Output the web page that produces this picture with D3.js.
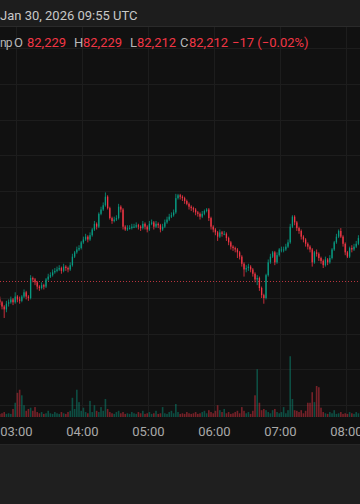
<!DOCTYPE html>
<html>
<head>
<meta charset="utf-8">
<script src="https://cdn.jsdelivr.net/npm/d3@7"></script>
<style>
  html, body { margin: 0; padding: 0; background: #111111; }
  svg { display: block; }
  text { font-family: Roboto, "Noto Sans", sans-serif; }
</style>
</head>
<body>
<div id="chart"></div>
<script>
var svgWidth = 360;
var svgHeight = 504;

// 2-minute bars, first bar at 02:45 UTC
var startTime = "2026-01-30T02:45:00Z";
var barMinutes = 2;
var firstOpen = 82199;

var closes = [
  82197, 82194, 82192, 82196, 82197, 82199, 82197, 82201, 82199, 82198,
  82201, 82204, 82201, 82200, 82214, 82213, 82211, 82208, 82207, 82209,
  82208, 82213, 82215, 82216, 82218, 82219, 82220, 82221, 82219, 82222,
  82221, 82220, 82223, 82229, 82232, 82234, 82235, 82239, 82241, 82243,
  82241, 82244, 82248, 82252, 82250, 82259, 82262, 82265, 82271, 82263,
  82256, 82254, 82255, 82256, 82264, 82262, 82250, 82248, 82249, 82249,
  82250, 82250, 82251, 82250, 82249, 82252, 82250, 82248, 82252, 82253,
  82250, 82252, 82251, 82248, 82250, 82253, 82255, 82257, 82258, 82260,
  82270, 82272, 82271, 82270, 82268, 82266, 82264, 82263, 82262, 82260,
  82259, 82257, 82259, 82261, 82262, 82256, 82250, 82248, 82246, 82243,
  82246, 82245, 82245, 82242, 82239, 82236, 82235, 82234, 82232, 82229,
  82224, 82220, 82221, 82222, 82220, 82217, 82213, 82214, 82207, 82202,
  82200, 82216, 82225, 82229, 82232, 82225, 82230, 82234, 82234, 82234,
  82236, 82239, 82250, 82257, 82253, 82249, 82247, 82243, 82241, 82238,
  82236, 82234, 82225, 82232, 82231, 82228, 82226, 82223, 82227, 82225,
  82228, 82234, 82239, 82243, 82247, 82243, 82238, 82232, 82229, 82235,
  82234, 82236, 82238, 82242
];

var highs = [
  82201, 82198, 82195, 82198, 82199, 82201, 82200, 82204, 82202, 82201,
  82202, 82206, 82205, 82202, 82216, 82215, 82214, 82212, 82209, 82211,
  82210, 82214, 82217, 82218, 82220, 82221, 82222, 82223, 82222, 82224,
  82223, 82222, 82225, 82231, 82233, 82236, 82237, 82240, 82243, 82245,
  82244, 82246, 82249, 82254, 82253, 82260, 82264, 82267, 82274, 82272,
  82264, 82257, 82257, 82258, 82266, 82265, 82263, 82251, 82251, 82251,
  82252, 82252, 82253, 82252, 82251, 82254, 82253, 82251, 82254, 82255,
  82254, 82254, 82253, 82252, 82252, 82255, 82257, 82259, 82260, 82262,
  82273, 82273, 82273, 82272, 82271, 82269, 82267, 82265, 82264, 82263,
  82261, 82260, 82261, 82262, 82263, 82263, 82257, 82251, 82249, 82247,
  82248, 82247, 82247, 82246, 82243, 82240, 82237, 82236, 82235, 82233,
  82230, 82225, 82223, 82224, 82223, 82221, 82218, 82216, 82215, 82208,
  82203, 82217, 82227, 82231, 82233, 82233, 82232, 82235, 82236, 82236,
  82238, 82241, 82252, 82258, 82258, 82254, 82250, 82248, 82244, 82242,
  82239, 82237, 82235, 82233, 82234, 82232, 82229, 82227, 82229, 82228,
  82230, 82235, 82240, 82245, 82248, 82249, 82244, 82239, 82233, 82236,
  82237, 82238, 82240, 82244
];

var lows = [
  82195, 82192, 82186, 82190, 82194, 82196, 82195, 82196, 82197, 82196,
  82197, 82200, 82199, 82198, 82199, 82211, 82209, 82206, 82205, 82206,
  82206, 82207, 82212, 82214, 82215, 82217, 82218, 82219, 82217, 82218,
  82219, 82218, 82219, 82222, 82228, 82231, 82233, 82234, 82238, 82240,
  82239, 82240, 82243, 82247, 82248, 82249, 82258, 82261, 82264, 82262,
  82255, 82252, 82253, 82254, 82255, 82260, 82248, 82247, 82247, 82248,
  82248, 82249, 82249, 82248, 82247, 82248, 82248, 82246, 82247, 82251,
  82248, 82249, 82249, 82246, 82247, 82249, 82252, 82254, 82256, 82257,
  82259, 82269, 82269, 82268, 82266, 82265, 82262, 82261, 82260, 82258,
  82257, 82255, 82256, 82258, 82260, 82254, 82248, 82246, 82244, 82240,
  82242, 82243, 82244, 82240, 82237, 82234, 82233, 82232, 82228, 82227,
  82222, 82215, 82218, 82219, 82218, 82215, 82211, 82209, 82205, 82200,
  82196, 82199, 82215, 82224, 82228, 82223, 82224, 82229, 82232, 82232,
  82233, 82235, 82238, 82249, 82251, 82247, 82245, 82241, 82239, 82236,
  82234, 82232, 82222, 82224, 82229, 82226, 82224, 82221, 82222, 82223,
  82224, 82227, 82233, 82238, 82242, 82242, 82236, 82230, 82228, 82228,
  82232, 82233, 82235, 82237
];

var volumes = [
  5, 6, 8, 5, 6, 5, 13, 23, 39, 44,
  35, 19, 10, 13, 15, 10, 16, 8, 6, 8,
  5, 6, 10, 6, 5, 8, 6, 5, 8, 6,
  5, 8, 10, 31, 13, 44, 24, 10, 15, 8,
  6, 26, 8, 19, 10, 8, 16, 10, 29, 13,
  8, 6, 5, 8, 10, 6, 8, 5, 6, 5,
  8, 6, 5, 8, 6, 10, 5, 6, 8, 5,
  6, 10, 5, 6, 16, 6, 5, 8, 10, 6,
  21, 8, 5, 6, 5, 8, 6, 5, 6, 8,
  5, 6, 8, 10, 6, 11, 8, 6, 10, 19,
  11, 8, 13, 6, 8, 5, 6, 8, 10, 6,
  16, 10, 6, 8, 5, 10, 35, 77, 23, 11,
  13, 11, 8, 6, 11, 13, 8, 6, 8, 16,
  6, 11, 98, 29, 11, 10, 8, 11, 6, 10,
  23, 23, 40, 24, 50, 48, 15, 8, 6, 5,
  8, 6, 11, 5, 6, 8, 5, 6, 5, 8,
  6, 5, 8, 6
];

var lastPrice = 82212;
var headerText = "Jan 30, 2026 09:55 UTC";
// legend pieces: [text, kind, left]
var legendItems = [
  ["np", "label", 0], ["O", "label", 14], ["82,229", "value", 27],
  ["H", "label", 74], ["82,229", "value", 83], ["L", "label", 130],
  ["82,212", "value", 137], ["C", "label", 180], ["82,212", "value", 189],
  ["\u221217 (\u22120.02%)", "value", 232]
];

var upColor = "#089981";
var downColor = "#f23645";

// build bar objects
var bars = closes.map(function(c, i) {
  return {
    time: new Date(Date.parse(startTime) + i * barMinutes * 60000),
    open: i === 0 ? firstOpen : closes[i - 1],
    high: highs[i],
    low: lows[i],
    close: c,
    volume: volumes[i]
  };
});

var svg = d3.select("#chart")
  .append("svg")
  .attr("width", svgWidth)
  .attr("height", svgHeight);

var plotTop = 27;
var plotBottom = 417;
var axisBottom = 444;

// backgrounds
svg.append("rect").attr("x", 0).attr("y", 0).attr("width", svgWidth).attr("height", svgHeight).attr("fill", "#111111");
svg.append("rect").attr("x", 0).attr("y", 0).attr("width", svgWidth).attr("height", plotTop).attr("fill", "#1d1d1d");
svg.append("line").attr("x1", 0).attr("x2", svgWidth).attr("y1", plotTop - 0.5).attr("y2", plotTop - 0.5)
  .attr("stroke", "#2a2a2a");
svg.append("rect").attr("x", 0).attr("y", axisBottom).attr("width", svgWidth).attr("height", svgHeight - axisBottom)
  .attr("fill", "#1f1f1f");
svg.append("line").attr("x1", 0).attr("x2", svgWidth).attr("y1", axisBottom + 0.5).attr("y2", axisBottom + 0.5)
  .attr("stroke", "#262626");

// scales
var xScale = d3.scaleUtc()
  .domain([new Date("2026-01-30T02:45:10Z"), new Date("2026-01-30T08:12:26Z")])
  .range([0, svgWidth]);

var yScale = d3.scaleLinear()
  .domain([82200, 82275])
  .range([298, 191]);

var volScale = d3.scaleLinear()
  .domain([0, 100])
  .range([plotBottom, plotBottom - 62]);

var plot = svg.append("g");

// grid: price levels every 25, hours for vertical
var priceTicks = d3.range(82100, 82400, 25).filter(function(p) {
  var y = yScale(p);
  return y > plotTop && y < plotBottom;
});
plot.selectAll(".hgrid")
  .data(priceTicks)
  .enter()
  .append("line")
  .attr("x1", 0)
  .attr("x2", svgWidth)
  .attr("y1", d => Math.round(yScale(d)) + 0.5)
  .attr("y2", d => Math.round(yScale(d)) + 0.5)
  .attr("stroke", "#1d1d1d");

var hourTicks = xScale.ticks(d3.utcHour.every(1));
plot.selectAll(".vgrid")
  .data(hourTicks)
  .enter()
  .append("line")
  .attr("x1", d => Math.round(xScale(d)) + 0.5)
  .attr("x2", d => Math.round(xScale(d)) + 0.5)
  .attr("y1", plotTop)
  .attr("y2", plotBottom)
  .attr("stroke", "#1d1d1d");

// volume bars
var barW = 1.3;
plot.selectAll(".vol")
  .data(bars)
  .enter()
  .append("rect")
  .attr("x", d => xScale(d.time) - 0.8)
  .attr("y", d => volScale(d.volume))
  .attr("width", 1.6)
  .attr("height", d => plotBottom - volScale(d.volume))
  .attr("fill", d => d.close >= d.open ? upColor : downColor)
  .attr("opacity", 0.45);

// last price dotted line
plot.append("line")
  .attr("x1", 0)
  .attr("x2", svgWidth)
  .attr("y1", Math.round(yScale(lastPrice)) + 0.5)
  .attr("y2", Math.round(yScale(lastPrice)) + 0.5)
  .attr("stroke", "#b8343e")
  .attr("stroke-dasharray", "1,2");

// candles
var candles = plot.selectAll(".candle")
  .data(bars)
  .enter()
  .append("g")
  .attr("fill", d => d.close >= d.open ? upColor : downColor)
  .attr("stroke", d => d.close >= d.open ? upColor : downColor);

candles.append("line")
  .attr("x1", d => xScale(d.time))
  .attr("x2", d => xScale(d.time))
  .attr("y1", d => yScale(d.high))
  .attr("y2", d => yScale(d.low))
  .attr("stroke-width", 0.8);

candles.append("rect")
  .attr("x", d => xScale(d.time) - barW / 2)
  .attr("y", d => yScale(Math.max(d.open, d.close)))
  .attr("width", barW)
  .attr("height", d => Math.max(1, Math.abs(yScale(d.open) - yScale(d.close))))
  .attr("stroke", "none");

// time axis labels
svg.selectAll(".tlabel")
  .data(hourTicks)
  .enter()
  .append("text")
  .attr("x", d => xScale(d))
  .attr("y", 436)
  .attr("text-anchor", "middle")
  .attr("font-size", "13px")
  .attr("fill", "#a9a9a9")
  .text(d3.utcFormat("%H:%M"));

// header
svg.append("text")
  .attr("x", 0)
  .attr("y", 20)
  .attr("font-size", "13px")
  .attr("fill", "#c8c8c8")
  .text(headerText);

// legend row
svg.selectAll(".legend")
  .data(legendItems)
  .enter()
  .append("text")
  .attr("x", d => d[2])
  .attr("y", 47)
  .attr("font-size", d => d[0] === "np" ? "12px" : "13px")
  .attr("letter-spacing", d => d[0] === "np" ? "-0.8" : null)
  .attr("fill", d => d[1] === "label" ? "#b8b8b8" : downColor)
  .text(d => d[0]);
</script>
</body>
</html>
